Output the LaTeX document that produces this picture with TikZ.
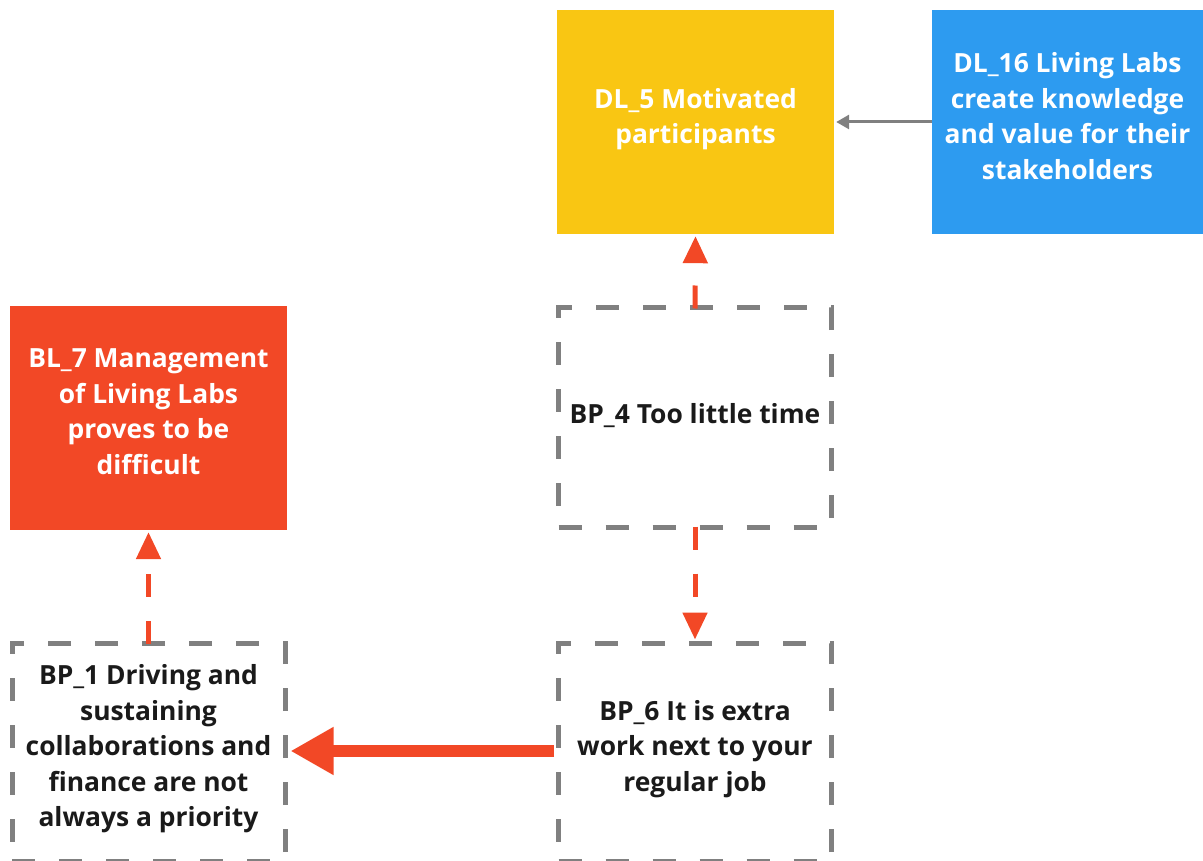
\documentclass[tikz,border=0pt]{standalone}
\usepackage{fontspec}
\setmainfont{Open Sans}
\usetikzlibrary{arrows.meta}
\definecolor{mYellow}{HTML}{F9C613}
\definecolor{mBlue}{HTML}{2D9BF0}
\definecolor{mRed}{HTML}{F24826}
\definecolor{mGray}{HTML}{808080}
\definecolor{mInk}{HTML}{1A1A1A}
% fixed-size line strut so every label is centred the same way
\newcommand{\lineprop}{\rule[-12.5pt]{0pt}{36pt}}
\tikzset{
  lbl/.style={font=\fontsize{26.4pt}{35.5pt}\selectfont\bfseries, align=center,
              execute at begin node=\lineprop, execute at end node=\lineprop},
  solidbox/.style={lbl, rectangle, inner sep=0pt, text=white, minimum width=277pt, minimum height=224pt},
  dashbox/.style={lbl, rectangle, inner sep=0pt, text=mInk, draw=mGray, line width=5pt,
                  dash pattern=on 23pt off 24pt, minimum width=273pt},
  reddash/.style={draw=mRed, line width=5pt, dash pattern=on 23pt off 24pt,
                  -{Triangle[length=27pt,width=24pt]}, shorten >=2pt},
  redthick/.style={draw=mRed, line width=12pt, -{Triangle[length=43pt,width=45pt]}, shorten >=1pt},
  grayarrow/.style={draw=mGray, line width=3pt, -{Triangle[length=13pt,width=14pt]}, shorten >=2pt},
}
\begin{document}
\begin{tikzpicture}[x=1pt,y=-1pt]
  \useasboundingbox (0,0) rectangle (1203,861);

  % filled boxes
  \node[solidbox, fill=mYellow] (dl5) at (695.5,122) {DL\_5 Motivated\\participants};
  \node[solidbox, fill=mBlue, minimum width=271pt] (dl16) at (1067.5,122)
       {DL\_16 Living Labs\\create knowledge\\and value for their\\stakeholders};
  \node[solidbox, fill=mRed] (bl7) at (148.5,418)
       {BL\_7 Management\\of Living Labs\\proves to be\\difficult};

  % dashed boxes
  \node[dashbox, minimum height=219pt] (bp4) at (695,417.5) {BP\_4 Too little time};
  \node[dashbox, minimum height=218pt] (bp6) at (695,752)
       {BP\_6 It is extra\\work next to your\\regular job};
  \node[dashbox, minimum height=218pt] (bp1) at (148.5,752)
       {BP\_1 Driving and\\sustaining\\collaborations and\\finance are not\\always a priority};

  % connectors
  \draw[grayarrow] (dl16.west) -- (dl5.east);
  \draw[reddash] ([yshift=-3pt]bp4.north) -- (dl5.south);
  \draw[reddash] ([yshift=3pt]bp4.south) -- ([yshift=-1pt]bp6.north);
  \draw[reddash] ([yshift=-3pt]bp1.north) -- (bl7.south);
  \draw[redthick] ([xshift=-2pt]bp6.west |- 0,751) -- ([xshift=2pt]bp1.east |- 0,751);
\end{tikzpicture}
\end{document}
